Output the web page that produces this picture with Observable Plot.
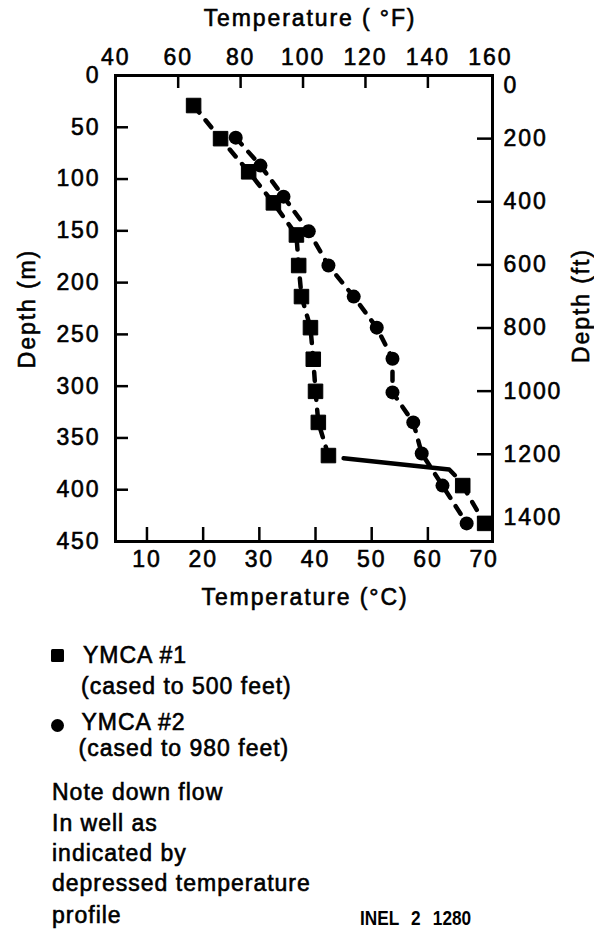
<!DOCTYPE html>
<html>
<head>
<meta charset="utf-8">
<script src="https://cdn.jsdelivr.net/npm/d3@7"></script>
<script src="https://cdn.jsdelivr.net/npm/@observablehq/plot@0.6"></script>
<style>
  html, body { margin: 0; padding: 0; background: #fff; }
  body { font-family: "Liberation Sans", Arial, sans-serif; color: #000; }
  #wrap { position: relative; width: 594px; height: 933px; overflow: hidden; }
  #chart { position: absolute; left: 0; top: 0; }
  #chart svg text { stroke: #000; stroke-width: 0.6px; }
  .lg { position: absolute; font-size: 23px; line-height: 23px; letter-spacing: 1px; white-space: nowrap;
        -webkit-text-stroke: 0.6px #000; }
  .sw { position: absolute; background: #000; }
  .code { position: absolute; font-family: "Liberation Sans", Arial, sans-serif; font-weight: bold;
          font-size: 21px; line-height: 21px; word-spacing: 9px; white-space: nowrap;
          transform: scaleX(0.82); transform-origin: left top; }
</style>
</head>
<body>
<div id="wrap">
  <div id="chart"></div>
  <div id="legend"></div>
</div>
<script>
// ---- data ----
// YMCA #1 (squares): depth (m) and temperature (°C)
const depthYmca1 = [29, 61, 93, 123, 154, 183.5, 213.5, 243.5, 274, 305, 335, 367, 396, 432.5];
const tempYmca1  = [18.3, 23.1, 28.1, 32.5, 36.6, 37.0, 37.5, 39.1, 39.6, 40.0, 40.5, 42.3, 66.2, 70.1];
// YMCA #2 (circles)
const depthYmca2 = [60, 87, 117, 150.5, 183.5, 213.5, 243.5, 273.5, 306, 335, 365, 396, 432.5];
const tempYmca2  = [25.8, 30.2, 34.3, 38.8, 42.3, 46.8, 50.9, 53.7, 53.7, 57.4, 58.9, 62.6, 66.9];
// solid down-flow connector in YMCA #1
const downflowDepth = [369.5, 380.5, 386];
const downflowTemp  = [45.0, 63.8, 64.8];

// tick labels
const celsiusTicks = [10, 20, 30, 40, 50, 60, 70];
const fahrenheitTicks = [40, 60, 80, 100, 120, 140, 160];
const meterTicks = [0, 50, 100, 150, 200, 250, 300, 350, 400, 450];
const feetTicks = [0, 200, 400, 600, 800, 1000, 1200, 1400];

// legend / notes
const seriesNames = ["YMCA #1", "YMCA #2"];
const seriesNotes = ["(cased to 500 feet)", "(cased to 980 feet)"];
const noteLines = ["Note down flow", "In well as", "indicated by", "depressed temperature", "profile"];
const figureCode = "INEL 2 1280";
const titles = {top: "Temperature ( °F)", bottom: "Temperature (°C)", left: "Depth (m)", right: "Depth (ft)"};

// ---- build tables ----
const ymca1 = depthYmca1.map((d, i) => ({depth: d, temp: tempYmca1[i]}));
const ymca2 = depthYmca2.map((d, i) => ({depth: d, temp: tempYmca2[i]}));
const downflow = downflowDepth.map((d, i) => ({depth: d, temp: downflowTemp[i]}));
const fToC = f => (f - 32) * 5 / 9;
const ftToM = f => f * 0.3048;

const W = 594, H = 615, mT = 75, mB = 74, mL = 115, mR = 102;
const frameW = W - mL - mR, frameH = H - mT - mB;

const dash = {stroke: "black", strokeWidth: 4.5, strokeDasharray: "9,10", strokeLinecap: "round"};
const tickStyle = {stroke: "black", strokeWidth: 2.5};

const chart = Plot.plot({
  width: W,
  height: H,
  marginTop: mT,
  marginBottom: mB,
  marginLeft: mL,
  marginRight: mR,
  style: "display:block; background:#fff; color:#000; font-family:'Liberation Sans', Arial, sans-serif; font-size:23px; letter-spacing:1.9px; overflow:visible;",
  x: {domain: [4.4, 71.5], label: null, axis: null},
  y: {domain: [0, 450], reverse: true, label: null, axis: null},
  marks: [
    // inward tick marks
    Plot.ruleX(celsiusTicks.filter(d => d < 70), {x: d => d, insetTop: frameH - 14, ...tickStyle}),
    Plot.ruleX(fahrenheitTicks.filter(d => d > 40 && d < 160).map(fToC), {x: d => d, insetBottom: frameH - 13, ...tickStyle}),
    Plot.ruleY(meterTicks.filter(d => d > 0 && d < 450), {y: d => d, insetRight: frameW - 13, ...tickStyle}),
    Plot.ruleY(feetTicks.filter(d => d > 0).map(ftToM), {y: d => d, insetLeft: frameW - 15, ...tickStyle}),
    Plot.frame({stroke: "black", strokeWidth: 3}),
    // tick labels
    Plot.axisX(celsiusTicks, {anchor: "bottom", tickSize: 0, tickPadding: 9, tickFormat: d => String(d), label: null, fill: "black"}),
    Plot.axisX(fahrenheitTicks.map(fToC), {anchor: "top", tickSize: 0, tickPadding: 11, tickFormat: d => String(Math.round(d * 9 / 5 + 32)), label: null, fill: "black"}),
    Plot.axisY(meterTicks, {anchor: "left", tickSize: 0, tickPadding: 15, tickFormat: d => String(d), label: null, fill: "black"}),
    Plot.axisY(feetTicks.filter(d => d > 0).map(ftToM), {anchor: "right", tickSize: 0, tickPadding: 11, tickFormat: d => String(Math.round(d / 0.3048)), label: null, fill: "black"}),
    Plot.axisY(feetTicks.filter(d => d === 0), {anchor: "right", tickSize: 0, tickPadding: 11, dy: 10, tickFormat: d => String(d), label: null, fill: "black"}),
    // titles
    Plot.text([titles.top], {text: d => d, frameAnchor: "top", textAnchor: "middle", lineAnchor: "middle", dx: 6, dy: -57, fill: "black"}),
    Plot.text([titles.bottom], {text: d => d, frameAnchor: "bottom", textAnchor: "middle", lineAnchor: "middle", dx: 1, dy: 56, fill: "black"}),
    Plot.text([titles.left], {text: d => d, frameAnchor: "left", textAnchor: "middle", lineAnchor: "middle", dx: -88, rotate: -90, fill: "black"}),
    Plot.text([titles.right], {text: d => d, frameAnchor: "right", textAnchor: "middle", lineAnchor: "middle", dx: 89, dy: -3, rotate: -90, fill: "black"}),
    // data lines
    Plot.line(ymca1.slice(0, 12), {x: "temp", y: "depth", ...dash}),
    Plot.line(ymca1.slice(12), {x: "temp", y: "depth", ...dash}),
    Plot.line(downflow, {x: "temp", y: "depth", stroke: "black", strokeWidth: 4.5, strokeLinecap: "round", strokeLinejoin: "round"}),
    Plot.line(ymca2, {x: "temp", y: "depth", ...dash}),
    // markers
    Plot.dot(ymca1, {x: "temp", y: "depth", symbol: "square", r: 8.2, fill: "black", stroke: "black", strokeWidth: 1, strokeLinejoin: "round"}),
    Plot.dot(ymca2, {x: "temp", y: "depth", symbol: "circle", r: 7, fill: "black"})
  ]
});
document.getElementById("chart").appendChild(chart);

// ---- legend and notes (HTML, below the SVG) ----
const legend = document.getElementById("legend");
function add(cls, text, left, top, extra) {
  const el = document.createElement("div");
  el.className = cls;
  if (text != null) el.textContent = text;
  el.style.left = left + "px";
  el.style.top = top + "px";
  if (extra) Object.assign(el.style, extra);
  legend.appendChild(el);
}
add("sw", null, 50.5, 648.5, {width: "13px", height: "13px", borderRadius: "1.5px"});
add("lg", seriesNames[0], 83, 643.5);
add("lg", seriesNotes[0], 81, 674.5);
add("sw", null, 50.5, 718.5, {width: "13px", height: "13px", borderRadius: "50%"});
add("lg", seriesNames[1], 81.5, 710.5);
add("lg", seriesNotes[1], 78.5, 737);
const noteTops = [780.5, 812, 842, 872, 903.5];
noteLines.forEach((t, i) => add("lg", t, 52, noteTops[i]));
add("code", figureCode, 360, 907);
</script>
</body>
</html>
